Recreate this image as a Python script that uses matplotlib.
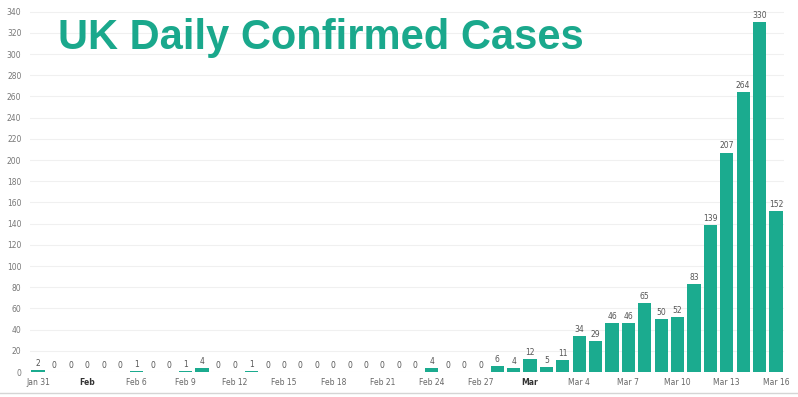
import matplotlib.pyplot as plt
import numpy as np

# daily confirmed cases, Jan 31 .. Mar 16
cases = [2, 0, 0, 0, 0, 0, 1, 0, 0, 1, 4, 0, 0, 1, 0, 0, 0, 0, 0, 0,
         0, 0, 0, 0, 4, 0, 0, 0, 6, 4, 12, 5, 11, 34, 29, 46, 46, 65, 50, 52,
         83, 139, 207, 264, 330, 152]
tick_pos = [0, 3, 6, 9, 12, 15, 18, 21, 24, 27, 30, 33, 36, 39, 42, 45]
tick_labels = ["Jan 31", "Feb", "Feb 6", "Feb 9", "Feb 12", "Feb 15", "Feb 18", "Feb 21",
               "Feb 24", "Feb 27", "Mar", "Mar 4", "Mar 7", "Mar 10", "Mar 13", "Mar 16"]
yticks = np.arange(0, 341, 20)

teal = "#1bab8f"

fig = plt.figure(figsize=(7.98, 3.97), dpi=100)
ax = fig.add_axes([29.8 / 798, 25 / 397, (784.2 - 29.8) / 798, 372 / 397])

x = np.arange(len(cases))
ax.bar(x, cases, width=0.8, color=teal, zorder=2)
for xi, v in zip(x, cases):
    ax.text(xi, v + 2, str(v), ha="center", va="bottom", fontsize=5.5, color="#555555")

ax.set_yticks(yticks)
ax.set_yticklabels([str(t) for t in yticks], fontsize=5.5, color="#777777")
ax.set_xticks(tick_pos)
ax.set_xticklabels(tick_labels, fontsize=5.5, color="#666666")
ax.set_xlim(-0.5, len(cases) - 0.5)
ax.set_ylim(0, 351)
for lab in ax.get_xticklabels():
    if lab.get_text() in ("Feb", "Mar"):
        lab.set_fontweight("bold")
        lab.set_color("#333333")
ax.tick_params(length=0, pad=4)
ax.tick_params(axis="y", pad=6)
ax.grid(axis="y", color="#f0f0f0", linewidth=0.8, zorder=0)
for s in ax.spines.values():
    s.set_visible(False)

fig.text(58 / 798, 1 - 49 / 397, "UK Daily Confirmed Cases", fontsize=30, fontweight="bold",
         color="#1aa88c", family="Liberation Sans", ha="left", va="baseline")

fig.add_artist(plt.Line2D([0, 1], [1 - 393 / 397] * 2, color="#d5d5d5", linewidth=1))

fig.savefig("out.png", dpi=100)
